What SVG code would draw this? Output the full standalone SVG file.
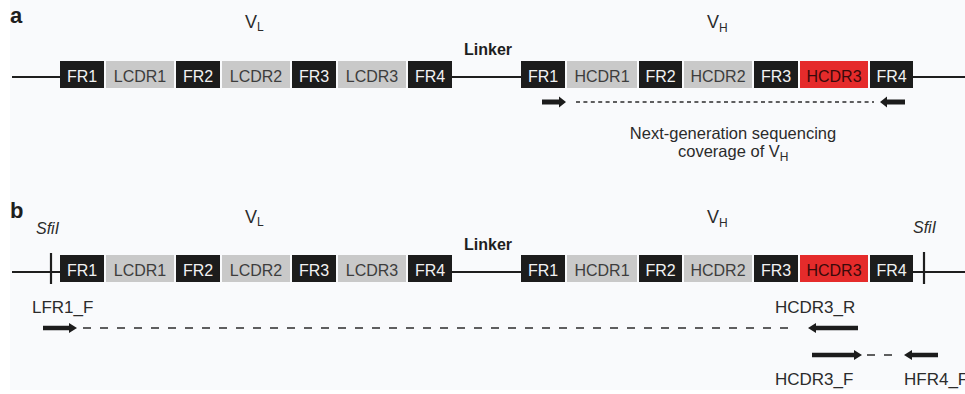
<svg xmlns="http://www.w3.org/2000/svg" width="965" height="394" viewBox="0 0 965 394">
  <defs>
    <style>
      text { font-family: "Liberation Sans", Arial, sans-serif; fill: #2b2b2b; }
      .panel { font-size: 22px; font-weight: bold; fill: #1e1e1e; }
      .dom { font-size: 18px; }
      .sub { font-size: 12px; }
      .lnk { font-size: 16px; font-weight: bold; fill: #1e1e1e; }
      .site { font-size: 16px; font-style: italic; }
      .lbl { font-size: 17px; }
      .cov { font-size: 16.5px; }
      .fr rect { fill: #1c1c1c; }
      .fr text { fill: #f2f2f2; font-size: 16px; text-anchor: middle; }
      .cdr rect { fill: #c9c9c9; }
      .cdr text { fill: #3d3d3d; font-size: 16px; text-anchor: middle; }
      .cdr3 rect { fill: #e52b2b; }
      .cdr3 text { fill: #3a0a0a; font-size: 16px; text-anchor: middle; }
      .dna { stroke: #1e1e1e; stroke-width: 2; fill: none; }
      .tick { stroke: #1e1e1e; stroke-width: 2.2; }
      .dashA { stroke: #2b2b2b; stroke-width: 1.4; stroke-dasharray: 4 3.4; fill: none; }
      .dashB { stroke: #2b2b2b; stroke-width: 1.6; stroke-dasharray: 8 9; fill: none; }
      .primer { fill: #1c1c1c; }
    </style>
  </defs>

  <!-- page -->
  <rect x="0" y="0" width="965" height="394" fill="#ffffff"/>
  <rect x="10" y="0" width="955" height="390" fill="#f9fafc"/>

  <!-- ===== panel a ===== -->
  <text class="panel" x="10" y="23">a</text>
  <text class="dom" x="245" y="28">V<tspan class="sub" dy="3">L</tspan></text>
  <text class="dom" x="707" y="28">V<tspan class="sub" dy="4">H</tspan></text>
  <text class="lnk" x="488" y="55" text-anchor="middle">Linker</text>

  <g id="connectors-a">
    <line class="dna" x1="12" y1="77" x2="60" y2="77"/>
    <line class="dna" x1="452" y1="77" x2="521" y2="77"/>
    <line class="dna" x1="913" y1="77" x2="965" y2="77"/>
    <line class="dashA" x1="576" y1="102" x2="874" y2="102"/>
    <path class="primer" d="M542,99.5 H559 V96.5 L566,102 L559,107.5 V104.5 H542 Z"/>
    <path class="primer" d="M905,99.5 H887 V96.5 L880,102 L887,107.5 V104.5 H905 Z"/>
  </g>

  <g id="vl-a">
    <g class="fr"><rect x="60" y="61" width="44" height="27"/><text x="82" y="82">FR1</text></g>
    <g class="cdr"><rect x="106" y="61" width="68" height="27"/><text x="140" y="82">LCDR1</text></g>
    <g class="fr"><rect x="176" y="61" width="44" height="27"/><text x="198" y="82">FR2</text></g>
    <g class="cdr"><rect x="222" y="61" width="68" height="27"/><text x="256" y="82">LCDR2</text></g>
    <g class="fr"><rect x="292" y="61" width="44" height="27"/><text x="314" y="82">FR3</text></g>
    <g class="cdr"><rect x="338" y="61" width="68" height="27"/><text x="372" y="82">LCDR3</text></g>
    <g class="fr"><rect x="408" y="61" width="44" height="27"/><text x="430" y="82">FR4</text></g>
  </g>

  <g id="vh-a">
    <g class="fr"><rect x="521" y="61" width="44" height="27"/><text x="543" y="82">FR1</text></g>
    <g class="cdr"><rect x="567" y="61" width="70" height="27"/><text x="602" y="82">HCDR1</text></g>
    <g class="fr"><rect x="639" y="61" width="43" height="27"/><text x="660.5" y="82">FR2</text></g>
    <g class="cdr"><rect x="684" y="61" width="68" height="27"/><text x="718" y="82">HCDR2</text></g>
    <g class="fr"><rect x="754" y="61" width="44" height="27"/><text x="776" y="82">FR3</text></g>
    <g class="cdr3"><rect x="800" y="61" width="68" height="27"/><text x="834" y="82">HCDR3</text></g>
    <g class="fr"><rect x="870" y="61" width="43" height="27"/><text x="891.5" y="82">FR4</text></g>
  </g>

  <text class="cov" x="733" y="139" text-anchor="middle">Next-generation sequencing</text>
  <text class="cov" x="678" y="157">coverage of V<tspan class="sub" dy="4">H</tspan></text>

  <!-- ===== panel b ===== -->
  <text class="panel" x="10" y="218">b</text>
  <text class="dom" x="245" y="223">V<tspan class="sub" dy="3">L</tspan></text>
  <text class="dom" x="707" y="223">V<tspan class="sub" dy="4">H</tspan></text>
  <text class="lnk" x="488" y="250" text-anchor="middle">Linker</text>
  <text class="site" x="36" y="234">SfiI</text>
  <text class="site" x="913" y="233">SfiI</text>

  <g id="connectors-b">
    <line class="dna" x1="12" y1="272" x2="60" y2="272"/>
    <line class="dna" x1="452" y1="272" x2="521" y2="272"/>
    <line class="dna" x1="913" y1="272" x2="965" y2="272"/>
    <line class="tick" x1="51" y1="253" x2="51" y2="284"/>
    <line class="tick" x1="924" y1="252" x2="924" y2="284"/>
    <line class="dashB" x1="83" y1="328" x2="796" y2="328"/>
    <line class="dashB" x1="867" y1="355" x2="900" y2="355"/>
    <!-- LFR1_F -->
    <path class="primer" d="M43,325.7 H69 V323 L77,328 L69,333 V330.3 H43 Z"/>
    <!-- HCDR3_R -->
    <path class="primer" d="M858,325.7 H816 V323 L808,328 L816,333 V330.3 H858 Z"/>
    <!-- HCDR3_F -->
    <path class="primer" d="M812,352.7 H854 V350 L862,355 L854,360 V357.3 H812 Z"/>
    <!-- HFR4_F -->
    <path class="primer" d="M938,352.7 H912 V350 L904,355 L912,360 V357.3 H938 Z"/>
  </g>

  <g id="vl-b">
    <g class="fr"><rect x="60" y="255" width="44" height="27"/><text x="82" y="276">FR1</text></g>
    <g class="cdr"><rect x="106" y="255" width="68" height="27"/><text x="140" y="276">LCDR1</text></g>
    <g class="fr"><rect x="176" y="255" width="44" height="27"/><text x="198" y="276">FR2</text></g>
    <g class="cdr"><rect x="222" y="255" width="68" height="27"/><text x="256" y="276">LCDR2</text></g>
    <g class="fr"><rect x="292" y="255" width="44" height="27"/><text x="314" y="276">FR3</text></g>
    <g class="cdr"><rect x="338" y="255" width="68" height="27"/><text x="372" y="276">LCDR3</text></g>
    <g class="fr"><rect x="408" y="255" width="44" height="27"/><text x="430" y="276">FR4</text></g>
  </g>

  <g id="vh-b">
    <g class="fr"><rect x="521" y="255" width="44" height="27"/><text x="543" y="276">FR1</text></g>
    <g class="cdr"><rect x="567" y="255" width="70" height="27"/><text x="602" y="276">HCDR1</text></g>
    <g class="fr"><rect x="639" y="255" width="43" height="27"/><text x="660.5" y="276">FR2</text></g>
    <g class="cdr"><rect x="684" y="255" width="68" height="27"/><text x="718" y="276">HCDR2</text></g>
    <g class="fr"><rect x="754" y="255" width="44" height="27"/><text x="776" y="276">FR3</text></g>
    <g class="cdr3"><rect x="800" y="255" width="68" height="27"/><text x="834" y="276">HCDR3</text></g>
    <g class="fr"><rect x="870" y="255" width="43" height="27"/><text x="891.5" y="276">FR4</text></g>
  </g>

  <g id="primer-labels">
    <text class="lbl" x="32" y="313">LFR1_F</text>
    <text class="lbl" x="775" y="313">HCDR3_R</text>
    <text class="lbl" x="775" y="385">HCDR3_F</text>
    <text class="lbl" x="904" y="385">HFR4_F</text>
  </g>
</svg>
